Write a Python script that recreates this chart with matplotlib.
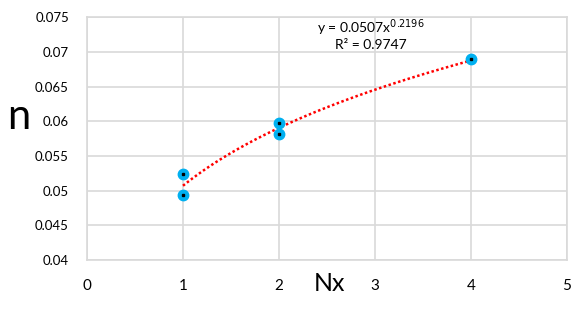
import numpy as np
import matplotlib.pyplot as plt

plt.rcParams['font.family'] = ['Lato', 'DejaVu Sans']

# data
nx = [1, 1, 2, 2, 4]
n = [0.0524, 0.0493, 0.0598, 0.0581, 0.0689]

# power trendline y = a * x^b (as shown on the chart)
a, b = 0.0507, 0.2196
r2 = 0.9747

xticks = [0, 1, 2, 3, 4, 5]
yticks = [0.04, 0.045, 0.05, 0.055, 0.06, 0.065, 0.07, 0.075]
ytick_labels = ['0.04', '0.045', '0.05', '0.055', '0.06', '0.065', '0.07', '0.075']

fig = plt.figure(figsize=(5.88, 3.11), dpi=100)
ax = fig.add_axes([0.148, 0.164, 0.816, 0.781])

grid_c = '#d9d9d9'
ax.set_xlim(0, 5)
ax.set_ylim(0.04, 0.075)
ax.set_xticks(xticks)
ax.set_yticks(yticks)
ax.set_yticklabels(ytick_labels)
ax.grid(True, color=grid_c, linewidth=1.2)
ax.set_axisbelow(True)
for s in ax.spines.values():
    s.set_color(grid_c)
    s.set_linewidth(1.2)
ax.tick_params(length=0)
ax.tick_params(axis='y', labelsize=9.5, pad=13, colors='#000000')
ax.tick_params(axis='x', labelsize=11, pad=14, colors='#000000')

xs = np.linspace(min(nx), max(nx), 100)
ax.plot(xs, a * xs ** b, color='#ff0000', linestyle=(0, (1, 1)), linewidth=1.8, zorder=2)
ax.plot(nx, n, 'o', color='#00b0f0', markersize=7.5, zorder=3)
ax.plot(nx, n, 's', color='#000000', markersize=1.5, zorder=4)

ax.text(0.592, 0.955, 'y = 0.0507x$^{0.2196}$', transform=ax.transAxes,
        ha='center', va='center', fontsize=10)
ax.text(0.592, 0.885, 'R² = %.4f' % r2, transform=ax.transAxes,
        ha='center', va='center', fontsize=10)

fig.text(0.032, 0.625, 'n', fontsize=30, ha='center', va='center')
fig.text(0.561, 0.087, 'Nx', fontsize=18, ha='center', va='center')

plt.savefig('out.png', dpi=100)
